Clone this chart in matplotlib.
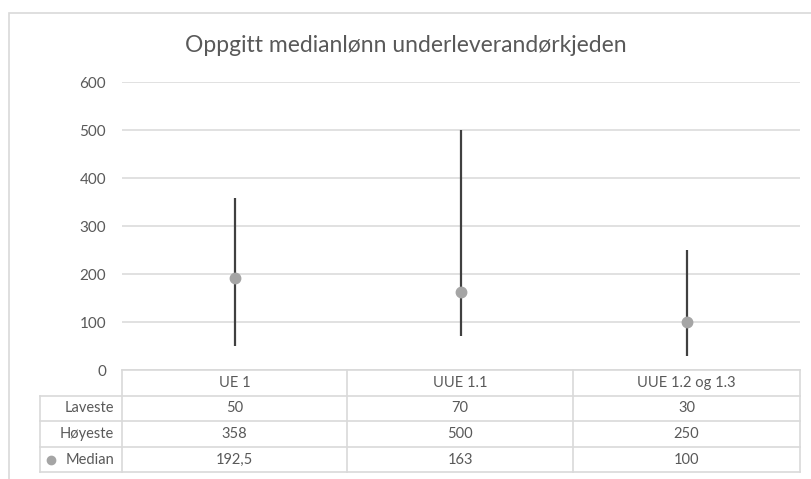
import matplotlib.pyplot as plt
from matplotlib.lines import Line2D
from matplotlib.patches import Rectangle

# Data
categories = ["UE 1", "UUE 1.1", "UUE 1.2 og 1.3"]
laveste = [50, 70, 30]
hoyeste = [358, 500, 250]
median = [192.5, 163, 100]
median_labels = ["192,5", "163", "100"]
y_ticks = [0, 100, 200, 300, 400, 500, 600]

W, H = 811, 479
TXT = "#595959"
GRID = "#d9d9d9"

plt.rcParams["font.family"] = ["Lato", "DejaVu Sans"]

fig = plt.figure(figsize=(W / 100, H / 100), dpi=100)


def fx(px):
    return px / W


def fy(py):
    return 1 - py / H


# chart frame
fig.patches.append(Rectangle((fx(9), fy(482)), fx(820), fy(13) - fy(482),
                             transform=fig.transFigure, fill=False,
                             edgecolor=GRID, linewidth=1.2))

ax = fig.add_axes([fx(122), fy(370), fx(800) - fx(122), fy(82) - fy(370)])
x = range(len(categories))
ax.vlines(x, laveste, hoyeste, color="#404040", linewidth=1.6, zorder=3)
ax.plot(x, median, "o", color="#a5a5a5", markersize=7.5, zorder=4)

ax.set_xlim(-0.5, len(categories) - 0.5)
ax.set_ylim(0, 600)
ax.set_yticks(y_ticks)
ax.set_yticklabels([str(v) for v in y_ticks], color=TXT, fontsize=11)
ax.tick_params(axis="y", length=0, pad=11.5)
ax.set_xticks([])
ax.grid(axis="y", color=GRID, linewidth=1.1)
ax.set_axisbelow(True)
for s in ax.spines.values():
    s.set_visible(False)

fig.text(0.5, fy(45), "Oppgitt medianlønn underleverandørkjeden",
         ha="center", va="center", fontsize=16.5, color=TXT)

# data table under the plot
col_edges = [122, 347, 573, 800]
row_edges = [370, 396, 421, 447, 472]
left_edge = 40


def hline(y, x0, x1):
    fig.lines.append(Line2D([fx(x0), fx(x1)], [fy(y), fy(y)],
                            transform=fig.transFigure, color=GRID, linewidth=1.2))


def vline(xp, y0, y1):
    fig.lines.append(Line2D([fx(xp), fx(xp)], [fy(y0), fy(y1)],
                            transform=fig.transFigure, color=GRID, linewidth=1.2))


hline(row_edges[0], col_edges[0], col_edges[-1])
for y in row_edges[1:]:
    hline(y, left_edge, col_edges[-1])
vline(left_edge, row_edges[1], row_edges[-1])
for xp in col_edges:
    vline(xp, row_edges[0], row_edges[-1])

rows = [("Laveste", [str(v) for v in laveste]),
        ("Høyeste", [str(v) for v in hoyeste]),
        ("Median", median_labels)]

for j, cat in enumerate(categories):
    cx = (col_edges[j] + col_edges[j + 1]) / 2
    cy = (row_edges[0] + row_edges[1]) / 2
    fig.text(fx(cx), fy(cy), cat, ha="center", va="center",
             fontsize=10.5, color=TXT)

for i, (name, vals) in enumerate(rows):
    cy = (row_edges[i + 1] + row_edges[i + 2]) / 2
    fig.text(fx(114), fy(cy), name, ha="right", va="center",
             fontsize=10.5, color=TXT)
    for j, v in enumerate(vals):
        cx = (col_edges[j] + col_edges[j + 1]) / 2
        fig.text(fx(cx), fy(cy), v, ha="center", va="center",
                 fontsize=10.5, color=TXT)

# legend key for the median row
key_y = (row_edges[3] + row_edges[4]) / 2
fig.lines.append(Line2D([fx(51)], [fy(key_y)], transform=fig.transFigure,
                        marker="o", color="#a5a5a5", markersize=6))

fig.savefig("out.png", dpi=100)
